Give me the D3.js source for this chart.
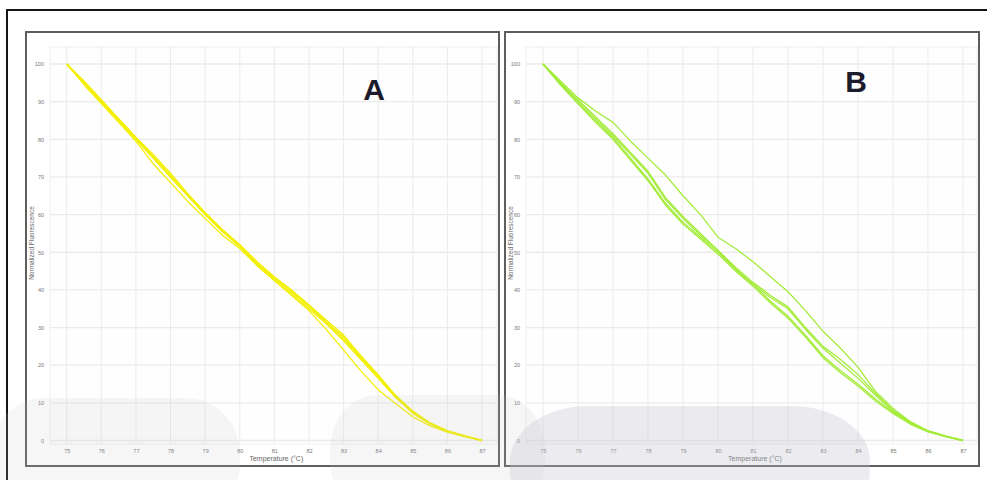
<!DOCTYPE html>
<html>
<head>
<meta charset="utf-8">
<script src="https://cdn.jsdelivr.net/npm/d3@7"></script>
<style>
  body { margin: 0; background: #fff; }
  svg { display: block; font-family: "Liberation Sans", Arial, sans-serif; }
</style>
</head>
<body>
<div id="chart"></div>
<script>
// temperatures (°C) at which the melt curves are sampled
var temps = [75, 75.5, 76, 76.5, 77, 77.5, 78, 78.5, 79, 79.5, 80, 80.5, 81,
             81.5, 82, 82.5, 83, 83.5, 84, 84.5, 85, 85.5, 86, 86.5, 87]

// panel A - normalized fluorescence, one array per sample
var curvesA = [
  [100, 95, 90, 85.5, 80.5, 76, 71, 65.5, 60.5, 56, 52, 47, 43, 39.5, 36, 32, 28, 22.5, 17.5, 12, 7.8, 4.7, 2.6, 1.2, 0],
  [100, 95, 90, 85, 80, 75, 70, 65, 60, 55.5, 51.5, 47, 43, 39.5, 35.5, 31.5, 27, 22, 17, 11.5, 7.5, 4.5, 2.5, 1.2, 0],
  [100, 94.5, 89.5, 84.5, 79.5, 73.5, 68.5, 63.5, 59, 54.5, 51, 46.5, 42.5, 39, 35, 31, 26.5, 21.5, 16.5, 11.5, 7.2, 4.4, 2.4, 1.1, 0],
  [100, 95, 90, 85, 80, 75, 70, 65, 60, 55.5, 51.5, 46.5, 42.5, 38.5, 34.5, 29.5, 24, 18.5, 13.5, 9.8, 6.3, 3.9, 2.2, 1, 0],
  [100, 95.5, 90.5, 85.5, 80.5, 75.5, 70.5, 65.5, 60.5, 56, 52, 47.5, 43.5, 40, 36, 31.5, 27.5, 22, 17, 12, 7.6, 4.6, 2.5, 1.2, 0]
]

// panel B
var curvesB = [
  [100, 95.5, 91, 87.5, 84.5, 79.5, 75, 70.5, 65, 60, 54, 51, 47.5, 43.5, 39.5, 34.5, 29, 24.5, 19.5, 13, 8.5, 5, 2.6, 1.2, 0],
  [100, 95, 90.5, 86, 81.5, 76.5, 71.5, 64.5, 59.5, 55, 50.5, 46, 42, 38.5, 35.5, 30, 25, 21.5, 17.5, 12.5, 8, 4.8, 2.5, 1.1, 0],
  [100, 95, 90, 85.5, 81, 76, 71, 64, 59, 54.5, 50.5, 45.5, 41.5, 38, 35, 29.5, 24.5, 20.5, 16.5, 12, 7.8, 4.7, 2.5, 1.1, 0],
  [100, 94.5, 89.5, 85, 80.5, 75, 69.5, 63, 58, 54, 50, 45.5, 41.5, 37, 33, 28, 22.5, 18.5, 15, 11, 7.5, 4.5, 2.4, 1.1, 0],
  [100, 94.5, 89.5, 84.5, 80, 74.5, 69, 62.5, 57.5, 53.5, 49.5, 45, 41, 36.5, 32.5, 27.5, 22, 18, 14.5, 10.5, 7.2, 4.3, 2.3, 1, 0]
]

var xTicks = d3.range(75, 88, 1)
var yTicks = d3.range(0, 101, 10)

var width = 987, height = 480

var svg = d3.select("#chart").append("svg")
  .attr("width", width)
  .attr("height", height)

// outer black frame
svg.append("rect")
  .attr("x", 7).attr("y", 10)
  .attr("width", 990).attr("height", 490)
  .attr("fill", "none")
  .attr("stroke", "#151515")
  .attr("stroke-width", 2)

function drawPanel(cfg) {
  var g = svg.append("g")

  // panel box
  g.append("rect")
    .attr("x", cfg.box[0]).attr("y", cfg.box[1])
    .attr("width", cfg.box[2]).attr("height", cfg.box[3])
    .attr("fill", "#fff")
    .attr("stroke", "#5e5e5e")
    .attr("stroke-width", 2)

  var x = d3.scaleLinear().domain([75, 87]).range(cfg.xr)
  var y = d3.scaleLinear().domain([0, 100]).range([440.5, 64])

  // plot area
  g.append("rect")
    .attr("x", cfg.gridLeft).attr("y", 47)
    .attr("width", cfg.box[0] + cfg.box[2] - 2 - cfg.gridLeft)
    .attr("height", 397)
    .attr("fill", "#fefefe")
    .attr("stroke", "#f0f0f0")

  // grid
  g.append("g").selectAll("line.v")
    .data(xTicks).enter().append("line")
    .attr("x1", d => x(d)).attr("x2", d => x(d))
    .attr("y1", 47).attr("y2", 444)
    .attr("stroke", "#ebebeb")
    .attr("stroke-width", 1)

  g.append("g").selectAll("line.h")
    .data(yTicks).enter().append("line")
    .attr("x1", cfg.gridLeft).attr("x2", cfg.box[0] + cfg.box[2] - 2)
    .attr("y1", d => y(d)).attr("y2", d => y(d))
    .attr("stroke", "#ebebeb")
    .attr("stroke-width", 1.3)

  // axes (labels only)
  var xa = g.append("g")
    .attr("transform", "translate(0,446)")
    .call(d3.axisBottom(x).tickValues(xTicks).tickSize(0).tickFormat(d3.format("d")))
  xa.select(".domain").remove()
  xa.selectAll("text").attr("font-size", 5.5).attr("fill", "#777").attr("font-family", "Liberation Sans, Arial, sans-serif")

  var ya = g.append("g")
    .attr("transform", "translate(" + (cfg.gridLeft - 3) + ",0)")
    .call(d3.axisLeft(y).tickValues(yTicks).tickSize(0).tickFormat(d3.format("d")))
  ya.select(".domain").remove()
  ya.selectAll("text").attr("font-size", 5.5).attr("fill", "#777").attr("font-family", "Liberation Sans, Arial, sans-serif")

  g.append("text")
    .attr("x", (cfg.xr[0] + cfg.xr[1]) / 2 + 2)
    .attr("y", 461)
    .attr("text-anchor", "middle")
    .attr("font-size", 7)
    .attr("fill", "#666")
    .text("Temperature (°C)")

  g.append("text")
    .attr("transform", "translate(" + cfg.ytX + ",243) rotate(-90)")
    .attr("text-anchor", "middle")
    .attr("font-size", 6.5)
    .attr("fill", "#666")
    .text("Normalized Fluorescence")

  // melt curves
  var line = d3.line()
    .x((d, i) => x(temps[i]))
    .y(d => y(d))
    .curve(d3.curveLinear)

  g.append("g").selectAll("path")
    .data(cfg.curves).enter().append("path")
    .attr("d", line)
    .attr("fill", "none")
    .attr("stroke", cfg.color)
    .attr("stroke-width", 1.3)
    .attr("stroke-linejoin", "round")

  g.append("text")
    .attr("x", cfg.label[1])
    .attr("y", cfg.label[2])
    .attr("text-anchor", "middle")
    .attr("font-family", "'Liberation Sans Narrow', 'Arial Narrow', 'Liberation Sans', sans-serif")
    .attr("font-weight", "bold")
    .attr("font-size", 30)
    .attr("fill", "#1b1b2c")
    .text(cfg.label[0])
}

drawPanel({
  box: [26, 32, 473, 434],
  xr: [66.7, 482],
  gridLeft: 50,
  ytX: 34,
  curves: curvesA,
  color: "#f2f000",
  label: ["A", 374, 100]
})

drawPanel({
  box: [505, 32, 474, 434],
  xr: [543, 963],
  gridLeft: 526,
  ytX: 513,
  curves: curvesB,
  color: "#a4ec3a",
  label: ["B", 856, 92]
})

// faint watermark blobs over the bottom of the picture: x, y, w, h, opacity
var blobs = [[-10, 398, 250, 120, 0.16], [330, 395, 215, 120, 0.16], [510, 406, 360, 120, 0.32]]
svg.append("g").selectAll("rect.blob")
  .data(blobs).enter().append("rect")
  .attr("x", d => d[0]).attr("y", d => d[1])
  .attr("width", d => d[2]).attr("height", d => d[3])
  .attr("rx", d => d[2] * 0.22).attr("ry", 55)
  .attr("fill", "#c4c4cf")
  .attr("opacity", d => d[4])
</script>
</body>
</html>
